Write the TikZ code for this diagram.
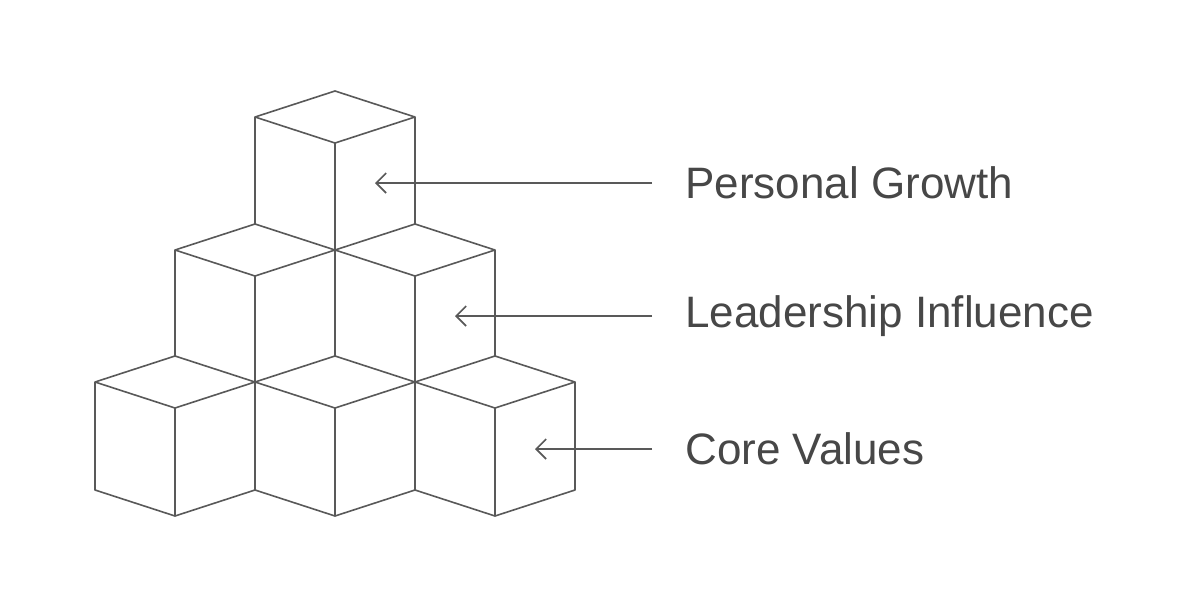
\documentclass[tikz,border=0pt]{standalone}
\usepackage{fontspec}
\setmainfont{Liberation Sans}
\usetikzlibrary{arrows.meta}
\begin{document}
\begin{tikzpicture}[x=0.5pt,y=-0.5pt,
  edge/.style={draw=black!65,line width=0.8pt,line join=round,fill=white},
  lbl/.style={anchor=west,text=black!72,font=\fontsize{22}{24}\selectfont,inner sep=0pt},
  arr/.style={draw=black!65,line width=0.8pt,-{Straight Barb[length=5pt,width=10pt]}}]
\useasboundingbox (0,0) rectangle (1200,600);
\newcommand{\cubeat}[2]{%
  \path[edge] (#1-80,#2-26) -- (#1,#2-52) -- (#1+80,#2-26) -- (#1+80,#2+82) -- (#1,#2+108) -- (#1-80,#2+82) -- cycle;
  \draw[edge,fill=none] (#1-80,#2-26) -- (#1,#2) -- (#1+80,#2-26) (#1,#2) -- (#1,#2+108);}
\cubeat{335}{143}
\cubeat{255}{276}
\cubeat{415}{276}
\cubeat{175}{408}
\cubeat{335}{408}
\cubeat{495}{408}
\node[lbl] (pg) at (685,183) {Personal Growth};
\node[lbl] (li) at (685,316) {Leadership Influence};
\node[lbl] (cv) at (685,449) {Core Values};
\coordinate (pga) at (375,183);
\coordinate (lia) at (455,316);
\coordinate (cva) at (535,449);
\draw[arr] (pg.west)++(-33,0) -- (pga);
\draw[arr] (li.west)++(-33,0) -- (lia);
\draw[arr] (cv.west)++(-33,0) -- (cva);
\end{tikzpicture}
\end{document}
